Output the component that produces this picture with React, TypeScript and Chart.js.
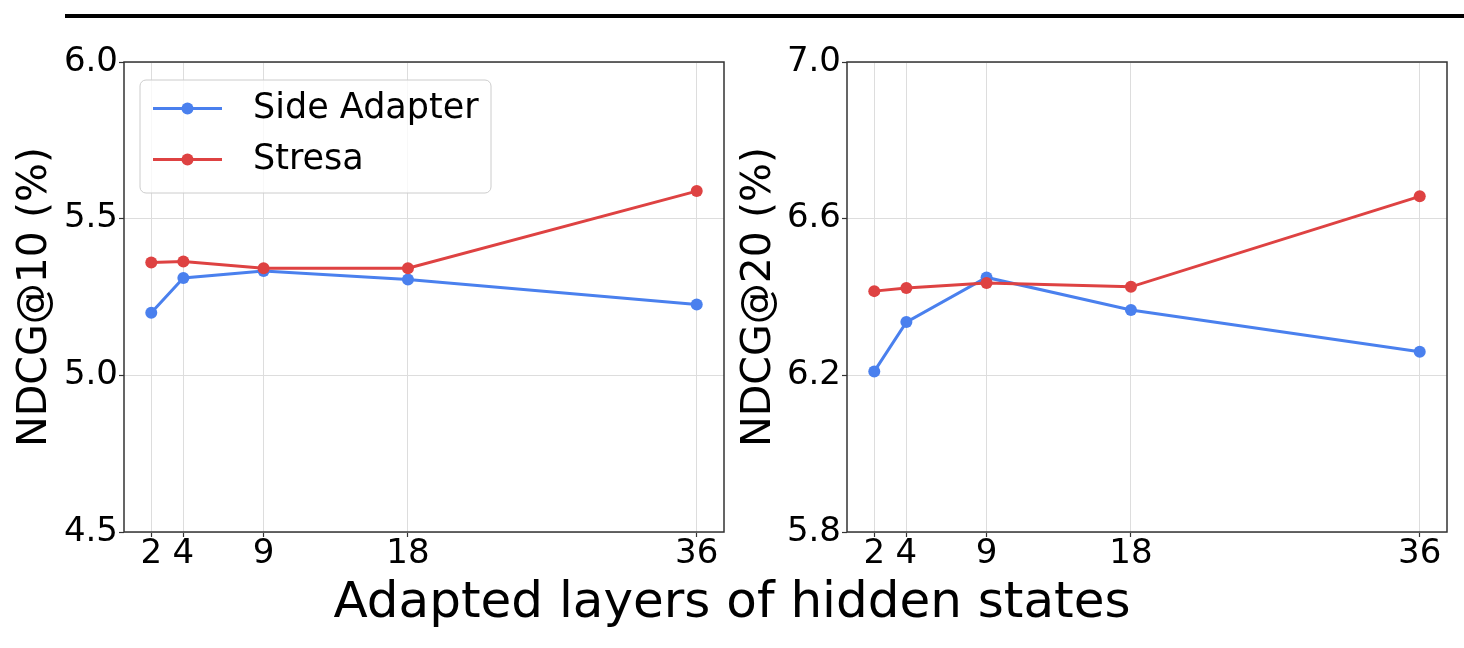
import React, { useEffect, useRef } from 'react';
import { Chart, registerables } from 'chart.js';

Chart.register(...registerables);

// ---- data ----
const layers = [2, 4, 9, 18, 36];
const xTickValues = [2, 4, 9, 18, 36];
const seriesNames = ['Side Adapter', 'Stresa'];
const sideAdapterNdcg10 = [5.2, 5.311, 5.333, 5.306, 5.226];
const stresaNdcg10 = [5.36, 5.363, 5.342, 5.342, 5.588];
const sideAdapterNdcg20 = [6.21, 6.336, 6.45, 6.367, 6.26];
const stresaNdcg20 = [6.415, 6.423, 6.436, 6.426, 6.657];
const yTicks10 = [4.5, 5.0, 5.5, 6.0];
const yTicks20 = [5.8, 6.2, 6.6, 7.0];
const yTitle10 = 'NDCG@10 (%)';
const yTitle20 = 'NDCG@20 (%)';
const xTitle = 'Adapted layers of hidden states';

const BLUE = '#4A80EE';
const RED = '#DE4242';
const FONT = '"DejaVu Sans", "Liberation Sans", sans-serif';

function makeDatasets(blueVals: number[], redVals: number[]) {
  const mk = (label: string, vals: number[], color: string, order: number) => ({
    label,
    data: layers.map((x, i) => ({ x, y: vals[i] })),
    borderColor: color,
    backgroundColor: color,
    pointBackgroundColor: color,
    pointBorderColor: color,
    pointBorderWidth: 0,
    pointRadius: 6,
    borderWidth: 3,
    tension: 0,
    order,
  });
  return [mk(seriesNames[0], blueVals, BLUE, 1), mk(seriesNames[1], redVals, RED, 0)];
}

const framePlugin = {
  id: 'frame',
  afterDatasetsDraw(chart: any) {
    const { ctx, chartArea: a } = chart;
    ctx.save();
    ctx.strokeStyle = '#333333';
    ctx.lineWidth = 1.5;
    ctx.strokeRect(a.left, a.top, a.right - a.left, a.bottom - a.top);
    ctx.restore();
  },
};

function makeLegendPlugin() {
  const box = { x: 140, y: 80, w: 351, h: 113 };
  const rows = [108.5, 159.5];
  const lineX0 = 153;
  const lineX1 = 222;
  const textX = 253;
  return {
    id: 'boxLegend',
    afterDraw(chart: any) {
      const ctx = chart.ctx;
      ctx.save();
      ctx.beginPath();
      ctx.roundRect(box.x, box.y, box.w, box.h, 6);
      ctx.fillStyle = 'rgba(255,255,255,0.8)';
      ctx.fill();
      ctx.strokeStyle = '#cccccc';
      ctx.lineWidth = 1;
      ctx.stroke();
      chart.data.datasets.forEach((ds: any, i: number) => {
        const cy = rows[i];
        ctx.strokeStyle = ds.borderColor;
        ctx.lineWidth = ds.borderWidth;
        ctx.beginPath();
        ctx.moveTo(lineX0, cy);
        ctx.lineTo(lineX1, cy);
        ctx.stroke();
        ctx.fillStyle = ds.pointBackgroundColor;
        ctx.beginPath();
        ctx.arc((lineX0 + lineX1) / 2, cy, ds.pointRadius, 0, Math.PI * 2);
        ctx.fill();
        ctx.fillStyle = '#000';
        ctx.font = `35px ${FONT}`;
        ctx.textBaseline = 'middle';
        ctx.textAlign = 'left';
        ctx.fillText(ds.label, textX, cy);
      });
      ctx.restore();
    },
  };
}

function makeOptions(
  yMin: number,
  yMax: number,
  yTicks: number[],
  yTitle: string,
  yAxisWidth: number,
  padRight: number,
  titlePad: number
) {
  const gridCfg = {
    color: '#dddddd',
    lineWidth: 1,
    drawTicks: true,
    tickLength: 5,
    tickColor: '#333333',
    tickWidth: 1.2,
  };
  return {
    responsive: false,
    animation: false,
    events: [],
    layout: { padding: { left: 0, top: 62, right: padRight, bottom: 56 } },
    plugins: { legend: { display: false }, tooltip: { enabled: false } },
    scales: {
      x: {
        type: 'linear',
        min: 0.3,
        max: 37.7,
        afterBuildTicks: (s: any) => {
          s.ticks = xTickValues.map((v) => ({ value: v }));
        },
        afterFit: (s: any) => {
          s.height = 60;
        },
        ticks: {
          autoSkip: false,
          maxRotation: 0,
          minRotation: 0,
          padding: 0,
          color: '#000',
          font: { family: FONT, size: 34, lineHeight: 1 },
          callback: (v: any) => String(v),
        },
        grid: gridCfg,
        border: { display: false },
      },
      y: {
        type: 'linear',
        min: yMin,
        max: yMax,
        afterBuildTicks: (s: any) => {
          s.ticks = yTicks.map((v) => ({ value: v }));
        },
        afterFit: (s: any) => {
          s.width = yAxisWidth;
        },
        ticks: {
          padding: 1,
          color: '#000',
          font: { family: FONT, size: 34 },
          callback: (v: any) => Number(v).toFixed(1),
        },
        grid: gridCfg,
        border: { display: false },
        title: {
          display: true,
          text: yTitle,
          color: '#000',
          font: { family: FONT, size: 41 },
          padding: { top: titlePad, bottom: 0 },
        },
      },
    },
  };
}

export default function App() {
  const leftRef = useRef<HTMLCanvasElement>(null);
  const rightRef = useRef<HTMLCanvasElement>(null);

  useEffect(() => {
    const c1 = new Chart(leftRef.current as HTMLCanvasElement, {
      type: 'line',
      data: { datasets: makeDatasets(sideAdapterNdcg10, stresaNdcg10) } as any,
      options: makeOptions(4.5, 6.0, yTicks10, yTitle10, 124, 8, 11) as any,
      plugins: [framePlugin, makeLegendPlugin()],
    });
    const c2 = new Chart(rightRef.current as HTMLCanvasElement, {
      type: 'line',
      data: { datasets: makeDatasets(sideAdapterNdcg20, stresaNdcg20) } as any,
      options: makeOptions(5.8, 7.0, yTicks20, yTitle20, 115, 17, 3) as any,
      plugins: [framePlugin],
    });
    return () => {
      c1.destroy();
      c2.destroy();
    };
  }, []);

  return (
    <div
      style={{
        position: 'fixed',
        left: 0,
        top: 0,
        width: 1464,
        height: 648,
        background: '#fff',
        overflow: 'hidden',
      }}
    >
      <div style={{ position: 'absolute', left: 65, top: 14, width: 1399, height: 4, background: '#000' }} />
      <canvas
        ref={leftRef}
        width={732}
        height={648}
        style={{ position: 'absolute', left: 0, top: 0, width: 732, height: 648 }}
      />
      <canvas
        ref={rightRef}
        width={732}
        height={648}
        style={{ position: 'absolute', left: 732, top: 0, width: 732, height: 648 }}
      />
      <div
        style={{
          position: 'absolute',
          left: 0,
          top: 575,
          width: 1464,
          textAlign: 'center',
          fontFamily: FONT,
          fontSize: 50,
          lineHeight: '50px',
          color: '#000',
          whiteSpace: 'nowrap',
        }}
      >
        {xTitle}
      </div>
    </div>
  );
}
